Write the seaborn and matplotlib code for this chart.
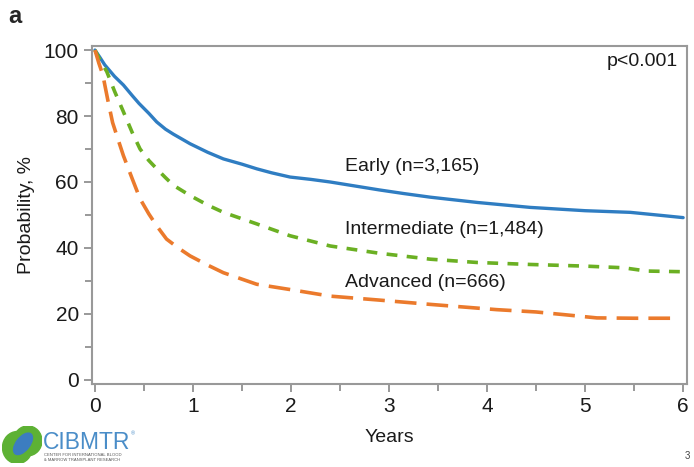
import numpy as np
import pandas as pd
import seaborn as sns
import matplotlib.pyplot as plt
from matplotlib.patches import Ellipse

# Courbes de survie (années, probabilité %)
annees_early = [0, 0.05, 0.1, 0.2, 0.29, 0.38, 0.45, 0.55, 0.63, 0.72, 0.8, 0.9, 0.97, 1.15, 1.31, 1.5, 1.65, 1.8, 1.99, 2.2, 2.4, 2.65, 2.9, 3.15, 3.42, 3.9, 4.44, 5.0, 5.46, 5.8, 6.0]
early = [100, 97.8, 95.5, 92.0, 89.4, 86.2, 83.8, 80.8, 78.2, 76.0, 74.5, 72.8, 71.6, 69.0, 67.0, 65.4, 64.0, 62.8, 61.5, 60.8, 60.0, 58.8, 57.6, 56.5, 55.4, 53.8, 52.3, 51.3, 50.8, 49.8, 49.2]

annees_inter = [0, 0.05, 0.12, 0.2, 0.29, 0.38, 0.46, 0.55, 0.63, 0.72, 0.8, 0.97, 1.15, 1.31, 1.65, 1.99, 2.4, 2.9, 3.42, 3.9, 4.44, 5.0, 5.39, 5.63, 6.0]
intermediaire = [100, 97, 93.5, 87.5, 81.3, 75.0, 70.0, 66.5, 64.0, 61.3, 59.0, 55.9, 53.0, 50.8, 47.3, 43.7, 40.6, 38.4, 36.6, 35.6, 35.0, 34.5, 34.0, 33.0, 32.8]

annees_adv = [0, 0.04, 0.08, 0.13, 0.18, 0.24, 0.29, 0.38, 0.46, 0.55, 0.63, 0.73, 0.85, 0.97, 1.15, 1.31, 1.65, 1.99, 2.4, 2.9, 3.42, 4.1, 4.5, 4.78, 5.12, 5.5, 5.87]
avance = [100, 96, 92.5, 85.0, 78.0, 72.5, 68.0, 61.0, 54.9, 50.3, 46.7, 42.7, 40.0, 37.6, 34.8, 32.5, 29.0, 27.4, 25.4, 24.2, 22.9, 21.3, 20.6, 19.8, 18.8, 18.7, 18.7]

labels = ["Early (n=3,165)", "Intermediate (n=1,484)", "Advanced (n=666)"]
label_y = [64.6, 45.7, 29.6]

sns.set_style("white")
plt.rcParams['font.family'] = ['Liberation Sans', 'DejaVu Sans']

fig = plt.figure(figsize=(6.94, 4.67), dpi=100)
ax = fig.add_axes([0.1326, 0.178, 0.8574, 0.724])

df_e = pd.DataFrame({'Years': annees_early, 'Prob': early})
df_i = pd.DataFrame({'Years': annees_inter, 'Prob': intermediaire})
df_a = pd.DataFrame({'Years': annees_adv, 'Prob': avance})

sns.lineplot(data=df_e, x='Years', y='Prob', ax=ax, color='#2F7DC2', lw=2.4)
sns.lineplot(data=df_i, x='Years', y='Prob', ax=ax, color='#6BB023', lw=2.6)
ax.lines[-1].set_dashes([3.0, 2.6])
sns.lineplot(data=df_a, x='Years', y='Prob', ax=ax, color='#EB7A2C', lw=2.6)
ax.lines[-1].set_dashes([6.0, 2.8])

for lab, yy in zip(labels, label_y):
    ax.text(2.55, yy, lab, fontsize=14, va='center', ha='left', color='#1a1a1a')
ax.text(5.95, 96.5, "p<0.001", fontsize=14, va='center', ha='right', color='#1a1a1a')

ax.set_xlim(-0.03, 6.04)
ax.set_ylim(-1.2, 101.3)
ax.set_xticks(range(0, 7))
ax.set_xticks(np.arange(0.5, 6, 1), minor=True)
ax.set_yticks(range(0, 101, 20))
ax.set_yticks(range(10, 100, 20), minor=True)
ax.tick_params(axis='both', which='both', direction='out', color='#888888', width=1.2,
               labelsize=15, labelcolor='#1a1a1a')
ax.tick_params(which='major', length=6, bottom=True, left=True)
ax.tick_params(which='minor', length=5, bottom=True, left=True)
for sp in ax.spines.values():
    sp.set_visible(True)
    sp.set_color('#999999')
    sp.set_linewidth(1.5)

ax.set_xlabel("Years", fontsize=14, color='#1a1a1a', labelpad=9)
ax.set_ylabel("Probability, %", fontsize=14, color='#1a1a1a', labelpad=6)

fig.text(0.012, 0.965, "a", fontsize=17, fontweight='bold', va='center', ha='left')
fig.text(0.995, 0.012, "3", fontsize=7, color='#444444', ha='right', va='bottom')

# logo CIBMTR approximatif
logo = fig.add_axes([0.003, 0.008, 0.058, 0.08])
logo.set_xlim(0, 1)
logo.set_ylim(0, 1)
logo.axis('off')
logo.add_patch(Ellipse((0.38, 0.42), 0.74, 0.86, color='#5DB134'))
logo.add_patch(Ellipse((0.64, 0.6), 0.7, 0.8, color='#5DB134'))
logo.add_patch(Ellipse((0.52, 0.52), 0.34, 0.66, angle=-35, color='#3C7DC0'))
fig.text(0.062, 0.0535, "CIBMTR", fontsize=16.5, color='#4A8DC8', ha='left', va='center')
fig.text(0.188, 0.068, "®", fontsize=4, color='#4A8DC8')
fig.text(0.063, 0.0195, "CENTER FOR INTERNATIONAL BLOOD\n& MARROW TRANSPLANT RESEARCH",
         fontsize=3, color='#555555', ha='left', va='center', linespacing=1.3)

fig.savefig("out.png", dpi=100)
